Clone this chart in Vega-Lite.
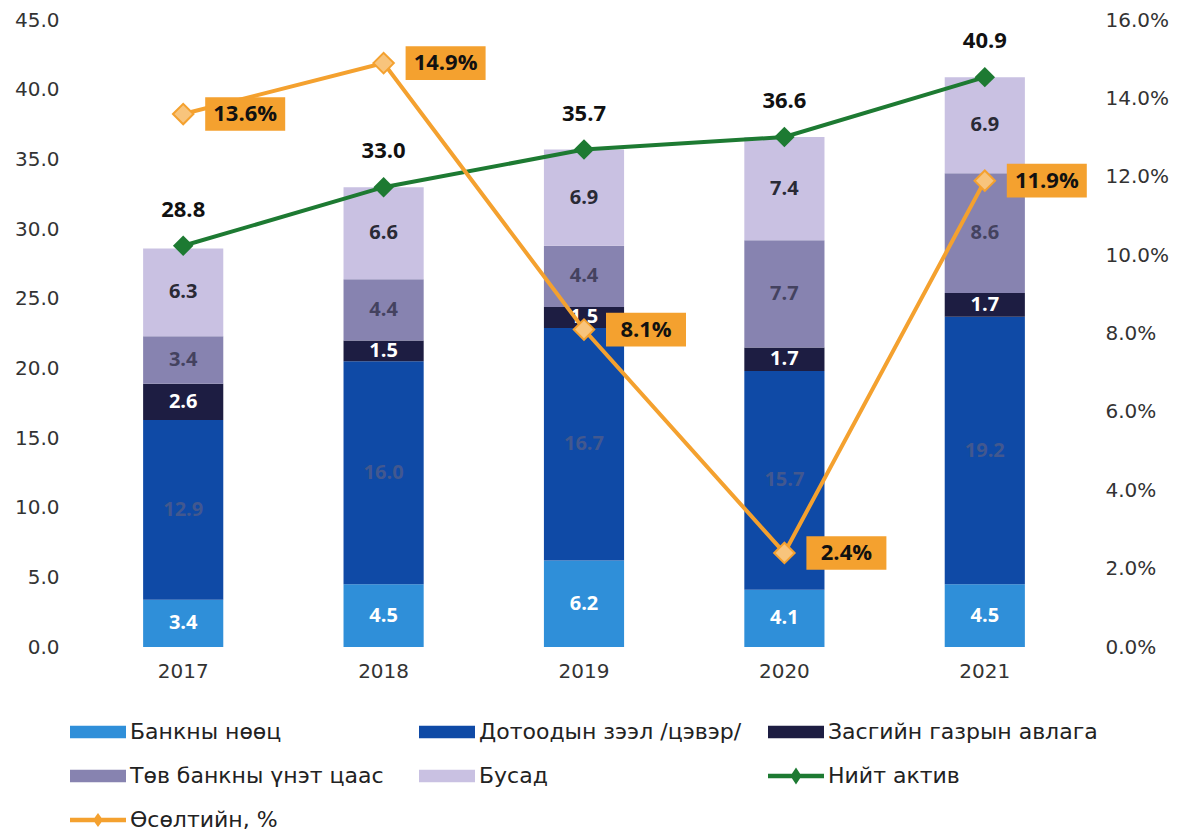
{
  "$schema": "https://vega.github.io/schema/vega-lite/v6.json",
  "width": 1002,
  "height": 627,
  "autosize": {"type": "none"},
  "padding": {"left": 83, "top": 20, "right": 97, "bottom": 190},
  "background": "white",
  "datasets": {
    "bars": [
      {"year": "2017", "series": "Банкны нөөц", "k": 1, "v": 3.4},
      {"year": "2017", "series": "Дотоодын зээл /цэвэр/", "k": 2, "v": 12.9},
      {"year": "2017", "series": "Засгийн газрын авлага", "k": 3, "v": 2.6},
      {"year": "2017", "series": "Төв банкны үнэт цаас", "k": 4, "v": 3.4},
      {"year": "2017", "series": "Бусад", "k": 5, "v": 6.3},
      {"year": "2018", "series": "Банкны нөөц", "k": 1, "v": 4.5},
      {"year": "2018", "series": "Дотоодын зээл /цэвэр/", "k": 2, "v": 16.0},
      {"year": "2018", "series": "Засгийн газрын авлага", "k": 3, "v": 1.5},
      {"year": "2018", "series": "Төв банкны үнэт цаас", "k": 4, "v": 4.4},
      {"year": "2018", "series": "Бусад", "k": 5, "v": 6.6},
      {"year": "2019", "series": "Банкны нөөц", "k": 1, "v": 6.2},
      {"year": "2019", "series": "Дотоодын зээл /цэвэр/", "k": 2, "v": 16.7},
      {"year": "2019", "series": "Засгийн газрын авлага", "k": 3, "v": 1.5},
      {"year": "2019", "series": "Төв банкны үнэт цаас", "k": 4, "v": 4.4},
      {"year": "2019", "series": "Бусад", "k": 5, "v": 6.9},
      {"year": "2020", "series": "Банкны нөөц", "k": 1, "v": 4.1},
      {"year": "2020", "series": "Дотоодын зээл /цэвэр/", "k": 2, "v": 15.7},
      {"year": "2020", "series": "Засгийн газрын авлага", "k": 3, "v": 1.7},
      {"year": "2020", "series": "Төв банкны үнэт цаас", "k": 4, "v": 7.7},
      {"year": "2020", "series": "Бусад", "k": 5, "v": 7.4},
      {"year": "2021", "series": "Банкны нөөц", "k": 1, "v": 4.5},
      {"year": "2021", "series": "Дотоодын зээл /цэвэр/", "k": 2, "v": 19.2},
      {"year": "2021", "series": "Засгийн газрын авлага", "k": 3, "v": 1.7},
      {"year": "2021", "series": "Төв банкны үнэт цаас", "k": 4, "v": 8.6},
      {"year": "2021", "series": "Бусад", "k": 5, "v": 6.9}
    ],
    "lines": [
      {"year": "2017", "total": 28.8, "growth": 0.136},
      {"year": "2018", "total": 33.0, "growth": 0.149},
      {"year": "2019", "total": 35.7, "growth": 0.081},
      {"year": "2020", "total": 36.6, "growth": 0.024},
      {"year": "2021", "total": 40.9, "growth": 0.119}
    ]
  },
  "encoding": {
    "x": {
      "field": "year",
      "type": "ordinal",
      "scale": {"paddingInner": 0.6, "paddingOuter": 0.3},
      "axis": {"title": null, "labelAngle": 0, "labelPadding": 14}
    }
  },
  "layer": [
    {
      "layer": [
        {
          "data": {"name": "bars"},
          "transform": [
            {"stack": "v", "groupby": ["year"], "sort": [{"field": "k"}], "as": ["v0", "v1"]},
            {"calculate": "(datum.v0 + datum.v1) / 2", "as": "mid"}
          ],
          "layer": [
            {
              "mark": {"type": "bar"},
              "encoding": {
                "y": {
                  "field": "v0",
                  "type": "quantitative",
                  "stack": null,
                  "scale": {"domain": [0, 45], "nice": false},
                  "axis": {"orient": "left", "title": null, "values": [0, 5, 10, 15, 20, 25, 30, 35, 40, 45], "format": ".1f", "labelPadding": 24}
                },
                "y2": {"field": "v1"},
                "color": {
                  "field": "series",
                  "type": "nominal",
                  "scale": {
                    "domain": ["Банкны нөөц", "Дотоодын зээл /цэвэр/", "Засгийн газрын авлага", "Төв банкны үнэт цаас", "Бусад", "Нийт актив", "Өсөлтийн, %"],
                    "range": ["#2f8fd9", "#0f4aa6", "#1d1d42", "#8783b0", "#c9c1e2", "#1d7a32", "#f4a12f"]
                  },
                  "legend": {}
                }
              }
            },
            {
              "mark": {"type": "text", "fontSize": 20, "fontWeight": "bold", "baseline": "middle", "align": "center"},
              "encoding": {
                "y": {"field": "mid", "type": "quantitative"},
                "text": {"field": "v", "type": "quantitative", "format": ".1f"},
                "color": {
                  "condition": [
                    {"test": "datum.series === 'Банкны нөөц' || datum.series === 'Засгийн газрын авлага'", "value": "#ffffff"},
                    {"test": "datum.series === 'Дотоодын зээл /цэвэр/'", "value": "#42588f"},
                    {"test": "datum.series === 'Төв банкны үнэт цаас'", "value": "#44425f"}
                  ],
                  "value": "#2a2a35"
                }
              }
            }
          ]
        },
        {
          "data": {"name": "lines"},
          "layer": [
            {
              "mark": {"type": "line", "color": "#1d7a32", "strokeWidth": 4},
              "encoding": {"y": {"field": "total", "type": "quantitative"}}
            },
            {
              "mark": {"type": "point", "shape": "diamond", "filled": true, "size": 420, "color": "#1d7a32", "opacity": 1},
              "encoding": {"y": {"field": "total", "type": "quantitative"}}
            },
            {
              "mark": {"type": "text", "fontSize": 22, "fontWeight": "bold", "color": "#111111", "dy": -36, "baseline": "middle"},
              "encoding": {
                "y": {"field": "total", "type": "quantitative"},
                "text": {"field": "total", "type": "quantitative", "format": ".1f"}
              }
            }
          ]
        },
        {
          "data": {"name": "bars"},
          "transform": [{"filter": "datum.v < 0"}],
          "mark": {"type": "point", "filled": true, "opacity": 1, "size": 3136},
          "encoding": {
            "color": {"field": "series", "type": "nominal", "legend": {}},
            "shape": {
              "field": "series",
              "type": "nominal",
              "scale": {
                "domain": ["Банкны нөөц", "Дотоодын зээл /цэвэр/", "Засгийн газрын авлага", "Төв банкны үнэт цаас", "Бусад", "Нийт актив", "Өсөлтийн, %"],
                "range": [
                  "M-1,-0.22H1V0.22H-1Z",
                  "M-1,-0.22H1V0.22H-1Z",
                  "M-1,-0.22H1V0.22H-1Z",
                  "M-1,-0.22H1V0.22H-1Z",
                  "M-1,-0.22H1V0.22H-1Z",
                  "M-1,-0.08H1V0.08H-1Z M-0.2,0L0,-0.3L0.2,0L0,0.3Z",
                  "M-1,-0.08H1V0.08H-1Z M-0.18,0L0,-0.25L0.18,0L0,0.25Z"
                ]
              },
              "legend": {}
            }
          }
        }
      ]
    },
    {
      "data": {"name": "lines"},
      "layer": [
        {
          "mark": {"type": "line", "color": "#f4a12f", "strokeWidth": 4},
          "encoding": {
            "y": {
              "field": "growth",
              "type": "quantitative",
              "scale": {"domain": [0, 0.16], "nice": false},
              "axis": {"orient": "right", "title": null, "values": [0, 0.02, 0.04, 0.06, 0.08, 0.1, 0.12, 0.14, 0.16], "format": ".1%", "labelPadding": 20}
            }
          }
        },
        {
          "mark": {"type": "point", "shape": "diamond", "filled": true, "size": 420, "fill": "#f8c47c", "stroke": "#f4a12f", "strokeWidth": 2, "opacity": 1},
          "encoding": {"y": {"field": "growth", "type": "quantitative"}}
        },
        {
          "mark": {"type": "point", "shape": "M-1,-0.42H1V0.42H-1Z", "filled": true, "size": 6400, "color": "#f4a12f", "opacity": 1, "xOffset": 62},
          "encoding": {"y": {"field": "growth", "type": "quantitative"}}
        },
        {
          "mark": {"type": "text", "fontSize": 22, "fontWeight": "bold", "color": "#111111", "dx": 62, "baseline": "middle", "align": "center"},
          "encoding": {
            "y": {"field": "growth", "type": "quantitative"},
            "text": {"field": "growth", "type": "quantitative", "format": ".1%"}
          }
        }
      ]
    }
  ],
  "resolve": {"scale": {"y": "independent"}},
  "config": {
    "font": "Open Sans",
    "view": {"stroke": null},
    "axis": {
      "domain": false,
      "ticks": false,
      "grid": false,
      "labelFontSize": 20,
      "labelColor": "#333333",
      "labelFont": "DejaVu Sans"
    },
    "legend": {
      "title": null,
      "orient": "none",
      "legendX": -13,
      "legendY": 684,
      "direction": "horizontal",
      "columns": 3,
      "gridAlign": "all",
      "columnPadding": 19,
      "rowPadding": 5,
      "labelFontSize": 22,
      "labelFont": "DejaVu Sans",
      "labelColor": "#222222",
      "labelOffset": 4,
      "labelLimit": 400,
      "symbolSize": 3136,
      "symbolStrokeWidth": 0,
      "symbolOpacity": 1
    }
  }
}
